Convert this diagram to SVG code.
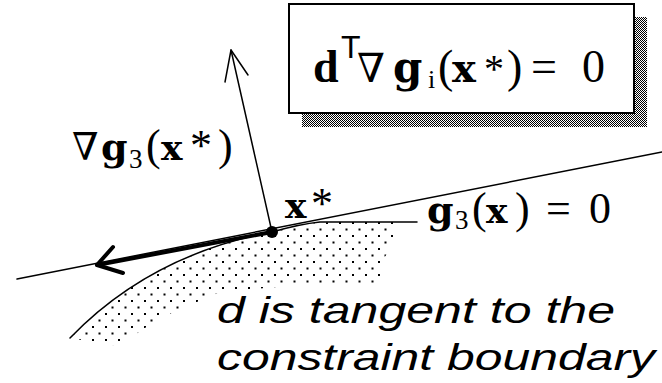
<svg xmlns="http://www.w3.org/2000/svg" width="662" height="383" viewBox="0 0 662 383">
  <defs>
    <pattern id="checker" width="2" height="2" patternUnits="userSpaceOnUse">
      <rect x="0" y="0" width="1" height="1" fill="#000"/>
      <rect x="1" y="1" width="1" height="1" fill="#000"/>
    </pattern>
    <pattern id="stipple" width="13" height="13" patternUnits="userSpaceOnUse">
      <rect x="1" y="1" width="2" height="2" fill="#000"/>
      <rect x="7.5" y="7.5" width="2" height="2" fill="#000"/>
    </pattern>
  </defs>
  <style>
    .serif { font-family: "Liberation Serif", "Times New Roman", serif; fill: #000; }
    .b { font-weight: bold; }
    .wide { font-family: "DejaVu Serif", "Liberation Serif", serif; font-weight: bold; }
    .nabla { font-family: "DejaVu Serif", "DejaVu Sans", serif; }
    .sans { font-family: "Liberation Sans", Arial, sans-serif; }
    .note { font-family: "Liberation Sans", Arial, sans-serif; font-style: italic; font-size: 36px; fill: #000; }
    .thin { fill: none; stroke: #000; stroke-width: 1.5; stroke-linecap: round; stroke-linejoin: round; }
    .thick { fill: none; stroke: #000; stroke-width: 4; stroke-linecap: round; stroke-linejoin: round; }
  </style>
  <rect width="662" height="383" fill="#fff"/>

  <!-- constraint region -->
  <g id="region">
    <path d="M70 338 Q150 255 272 232 Q300 224 330 222 L395 222 L392 245 L382 262 L380 285 L300 285 L220 292 L160 318 L118 346 Z" fill="url(#stipple)"/>
  </g>

  <!-- formula box -->
  <g id="formula-box">
    <rect x="302" y="17" width="345" height="110" fill="url(#checker)"/>
    <rect x="289" y="4" width="345" height="109" fill="#fff" stroke="#000" stroke-width="2"/>
    <text class="serif" font-size="46" y="82">
      <tspan class="b" x="313">d</tspan>
      <tspan class="sans" font-size="32" x="341" y="58">T</tspan>
      <tspan class="nabla" font-size="40" x="357" y="82">∇</tspan>
      <tspan class="wide" font-size="42" x="393">g</tspan>
      <tspan font-size="26" x="428" y="88">i</tspan>
      <tspan x="438" y="82">(</tspan>
      <tspan class="wide" font-size="40" x="452">x</tspan>
      <tspan font-size="40" x="484">*</tspan>
      <tspan x="507">)</tspan>
      <tspan x="531">=</tspan>
      <tspan x="582">0</tspan>
    </text>
  </g>

  <!-- connectors -->
  <g id="connectors">
    <line class="thin" x1="17" y1="279" x2="662" y2="152"/>
    <path class="thin" d="M70 338 Q150 255 272 232 Q300 224 320 222 L417 222"/>
    <path class="thin" d="M272 232 L231 50"/>
    <path class="thin" d="M225 82 L231 50 L248 75"/>
    <path class="thick" d="M272 232 L97 265"/>
    <path class="thick" d="M113 247 L97 265 L123 273"/>
  </g>

  <g id="point-xstar">
    <circle cx="272" cy="232" r="6" fill="#000"/>
    <text class="serif" font-size="44" y="218">
      <tspan class="wide" font-size="36" x="285">x</tspan>
      <tspan x="311">*</tspan>
    </text>
  </g>

  <g id="label-gradient">
    <text class="serif" font-size="44" y="160">
      <tspan class="nabla" font-size="38" x="72">∇</tspan>
      <tspan class="wide" font-size="38" x="101">g</tspan>
      <tspan font-size="27" x="129" y="168">3</tspan>
      <tspan x="146" y="160">(</tspan>
      <tspan class="wide" font-size="36" x="161">x</tspan>
      <tspan x="190">*</tspan>
      <tspan x="218">)</tspan>
    </text>
  </g>

  <g id="label-constraint">
    <text class="serif" font-size="44" y="223">
      <tspan class="wide" font-size="38" x="427">g</tspan>
      <tspan font-size="27" x="455" y="229">3</tspan>
      <tspan x="472" y="223">(</tspan>
      <tspan class="wide" font-size="36" x="486">x</tspan>
      <tspan x="515">)</tspan>
      <tspan x="546">=</tspan>
      <tspan x="589">0</tspan>
    </text>
  </g>

  <g id="note">
    <text class="note" x="217" y="323" textLength="398" lengthAdjust="spacingAndGlyphs">d is tangent to the</text>
    <text class="note" x="217" y="370" textLength="438" lengthAdjust="spacingAndGlyphs">constraint boundary</text>
  </g>
</svg>
